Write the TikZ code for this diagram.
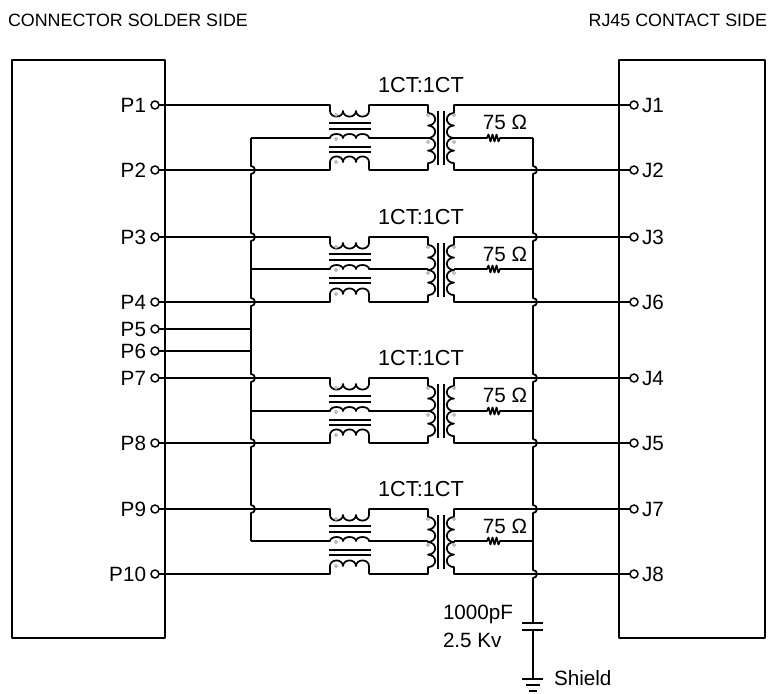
\documentclass[tikz,border=0pt]{standalone}
\usepackage{fontspec}
\setmainfont{Liberation Sans}
\tikzset{
  wire/.style={line width=1.3pt,line join=round},
  pinc/.style={circle,draw,line width=1.1pt,fill=white,inner sep=0pt,minimum size=6pt,outer sep=0pt},
  lab/.style={font=\fontsize{15.5pt}{18pt}\selectfont,inner sep=0pt,outer sep=0pt},
  ctlab/.style={font=\fontsize{16.3pt}{18pt}\selectfont,inner sep=0pt,outer sep=0pt},
  head/.style={font=\fontsize{13.4pt}{16pt}\selectfont,inner sep=0pt,outer sep=0pt},
  coredot/.style={circle,draw=gray,line width=0.4pt,fill=white,inner sep=0pt,minimum size=2.4pt,outer sep=0pt},
  hx/.style={x radius=4.875pt,y radius=4.2pt},
  mx/.style={x radius=4.875pt,y radius=3pt},
  vx/.style={x radius=5.4pt,y radius=4.7pt}
}
% id, top, mid, bottom, pin top, pin bottom, jack top, jack bottom
\newcommand{\xfmrblock}[8]{%
  \pgfmathsetmacro{\ca}{#3-15}\pgfmathsetmacro{\cb}{#3-9}%
  \pgfmathsetmacro{\cc}{#3+9}\pgfmathsetmacro{\cd}{#3+14}%
  \pgfmathsetmacro{\la}{#2-20}\pgfmathsetmacro{\lb}{#2+17}%
  \pgfmathsetmacro{\da}{#2+10}\pgfmathsetmacro{\db}{#3+1}\pgfmathsetmacro{\dc}{#4-8}%
  \pgfmathsetmacro{\dd}{#3+4}%
  \coordinate (a#1) at (330,#2); \coordinate (b#1) at (369,#2);
  \coordinate (c#1) at (428,#2); \coordinate (d#1) at (428,#4);
  \coordinate (e#1) at (369,#4); \coordinate (g#1) at (330,#4);
  \coordinate (h#1) at (330,#3); \coordinate (i#1) at (369,#3);
  \coordinate (j#1) at (428,#3); \coordinate (k#1) at (454,#2);
  \coordinate (l#1) at (454,#4); \coordinate (m#1) at (454,#3);
  \coordinate (n#1) at (533,#3); \coordinate (bl#1) at (251,#3);
  % top winding, then the left vertical winding
  \draw[wire] (#5.east) -- (a#1) -- ++(0,6)
    arc[start angle=180,end angle=360,hx] arc[start angle=180,end angle=360,hx] arc[start angle=180,end angle=360,hx]
    -- (b#1) -- (c#1) -- ++(0,8)
    arc[start angle=90,end angle=-90,vx] arc[start angle=90,end angle=-90,vx]
    arc[start angle=90,end angle=-90,vx] arc[start angle=90,end angle=-90,vx]
    -- (d#1) -- (e#1);
  % bottom winding
  \draw[wire] (#6.east) -- (g#1) -- ++(0,-8)
    arc[start angle=180,end angle=0,hx] arc[start angle=180,end angle=0,hx] arc[start angle=180,end angle=0,hx]
    -- (e#1);
  % centre winding
  \draw[wire] (bl#1) -- (h#1)
    arc[start angle=180,end angle=0,mx] arc[start angle=180,end angle=0,mx] arc[start angle=180,end angle=0,mx]
    -- (j#1);
  % right vertical winding
  \draw[wire] (#7.west) -- (k#1) -- ++(0,8)
    arc[start angle=90,end angle=270,vx] arc[start angle=90,end angle=270,vx]
    arc[start angle=90,end angle=270,vx] arc[start angle=90,end angle=270,vx]
    -- (l#1) -- (#8.west);
  % resistor
  \draw[wire] (m#1) -- ++(33,0) -- ++(1.5,-3.5) -- ++(2,7) -- ++(2,-7) -- ++(2,7) -- ++(2,-7) -- ++(2,7) -- ++(1.5,-3.5) -- (n#1);
  % cores
  \foreach \q in {\ca,\cb,\cc,\cd} \draw[wire] (329,\q) -- (371,\q);
  \pgfmathsetmacro{\ya}{#2+6}\pgfmathsetmacro{\yb}{#4-5}%
  \foreach \q in {438,444} \draw[wire] (\q,\ya) -- (\q,\yb);
  % phase dots
  \node[coredot] (da#1) at (336,\da) {};
  \node[coredot] (db#1) at (336,\db) {};
  \node[coredot] (dc#1) at (336,\dc) {};
  \node[coredot] (dd#1) at (428,\da) {};
  \node[coredot] (de#1) at (428,\dd) {};
  \node[coredot] (df#1) at (454,\da) {};
  \node[coredot] (dg#1) at (454,\dd) {};
  \node[ctlab] (ct#1) at (421,\la) {1CT:1CT};
  \node[lab] (ohm#1) at (505,\lb) {75 Ω};
}
\begin{document}
\begin{tikzpicture}[x=0.75pt,y=-0.75pt]
\useasboundingbox (0,0) rectangle (770,693);
\node[head,anchor=west] (hl) at (8,20) {CONNECTOR SOLDER SIDE};
\node[head,anchor=east] (hr) at (767,20) {RJ45 CONTACT SIDE};
\coordinate (lb1) at (12,60); \coordinate (lb2) at (165,638);
\coordinate (rb1) at (619,60); \coordinate (rb2) at (765,638);
\draw[wire] (lb1) rectangle (lb2);
\draw[wire] (rb1) rectangle (rb2);
% pins
\foreach \n/\y in {P1/105,P2/170,P3/237,P4/302,P5/329,P6/351,P7/378,P8/443,P9/509,P10/574}{
  \node[pinc] (\n) at (155,\y) {};
  \node[lab,anchor=east] (t\n) at (146,\y) {\n};
}
\foreach \n/\y in {J1/105,J2/170,J3/237,J6/302,J4/378,J5/443,J7/509,J8/574}{
  \node[pinc] (\n) at (634,\y) {};
  \node[lab,anchor=west] (t\n) at (642,\y) {\n};
}
\xfmrblock{1}{105}{138}{170}{P1}{P2}{J1}{J2}
\xfmrblock{2}{237}{269}{302}{P3}{P4}{J3}{J6}
\xfmrblock{3}{378}{411}{443}{P7}{P8}{J4}{J5}
\xfmrblock{4}{509}{541}{574}{P9}{P10}{J7}{J8}
% left bus
\coordinate (bt) at (251,138); \coordinate (bb) at (251,541);
\draw[wire] (bt)
  \foreach \y in {170,237,302,378,443,509}{ -- (251,\y-4) arc[start angle=90,end angle=-90,radius=3pt] }
  -- (bb);
\coordinate (b5) at (251,329); \coordinate (b6) at (251,351);
\draw[wire] (P5.east) -- (b5);
\draw[wire] (P6.east) -- (b6);
% right bus and shield capacitor
\coordinate (rt) at (533,138); \coordinate (cap1) at (533,623); \coordinate (cap2) at (533,630); \coordinate (gnd) at (533,679);
\draw[wire] (rt)
  \foreach \y in {170,237,302,378,443,509,574}{ -- (533,\y-4) arc[start angle=90,end angle=-90,radius=3pt] }
  -- (cap1);
\draw[wire] (cap2) -- (gnd);
\draw[wire] (522,623) -- (543,623);
\draw[wire] (522,630) -- (543,630);
\draw[wire] (522,679) -- (543,679);
\draw[wire] (526,685) -- (540,685);
\draw[wire] (529,691) -- (537,691);
\node[lab,anchor=west] (cv1) at (443,614) {1000pF};
\node[lab,anchor=west] (cv2) at (443,640) {2.5 Kv};
\node[lab,anchor=west] (sh) at (554,678) {Shield};
\end{tikzpicture}
\end{document}
